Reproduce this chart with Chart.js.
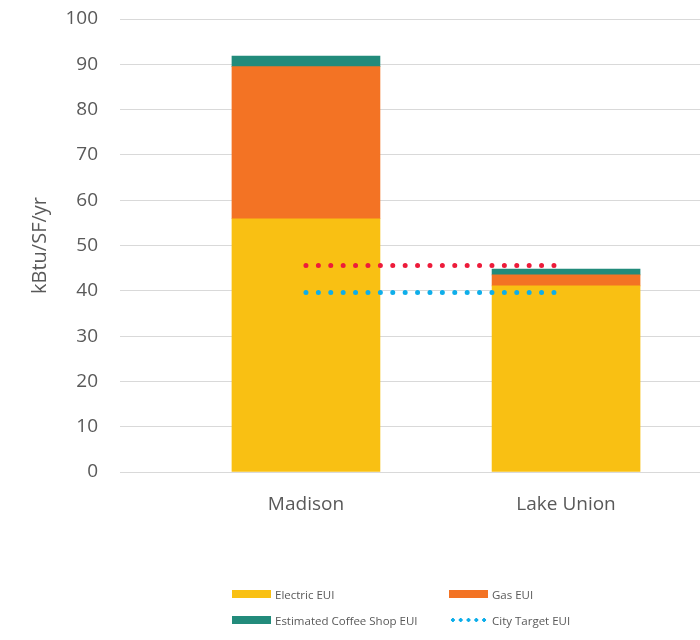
<!DOCTYPE html>
<html>
<head>
<meta charset="utf-8">
<script src="https://cdn.jsdelivr.net/npm/chart.js@4.4.1/dist/chart.umd.min.js"></script>
<style>
  body { margin: 0; background: #fff; }
  #wrap { position: relative; width: 700px; height: 640px; }
  #legend { position: absolute; left: 232px; top: 586px; font-family: 'Open Sans', sans-serif; font-size: 11.5px; color: #595959;
            display: grid; grid-template-columns: 217px 200px; row-gap: 10px; }
  .item { display: flex; align-items: center; height: 16px; }
  .sw { width: 39px; height: 8px; margin-right: 4px; }
</style>
</head>
<body>
<div id="wrap">
  <canvas id="chart" width="700" height="640"></canvas>
  <div id="legend"></div>
</div>
<script>
const sites = ['Madison', 'Lake Union'];
const electric = [55.9, 41.1];
const gas = [33.6, 2.4];
const coffee = [2.3, 1.3];
const cityTarget = [39.6, 39.6];
const otherTarget = [45.6, 45.6];
const targetPos = [0, 0.96];
const yTicks = [0, 10, 20, 30, 40, 50, 60, 70, 80, 90, 100];

const colors = {
  electric: '#F9C013',
  gas: '#F37324',
  coffee: '#228B7B',
  target: '#0EAEEA',
  red: '#ED1B3A'
};

const font = "'Open Sans', sans-serif";

function barData(vals) {
  return vals.map((v, i) => ({ x: i, y: v }));
}
function lineData(vals) {
  return vals.map((v, i) => ({ x: targetPos[i], y: v }));
}

const chart = new Chart(document.getElementById('chart'), {
  type: 'bar',
  data: {
    datasets: [
      { type: 'line', label: 'City Target EUI', data: lineData(cityTarget), borderColor: colors.target,
        borderWidth: 5, borderDash: [0, 12.4], borderCapStyle: 'round', pointRadius: 0, fill: false, stack: 'l1', order: 0 },
      { type: 'line', label: '', data: lineData(otherTarget), borderColor: colors.red,
        borderWidth: 5, borderDash: [0, 12.4], borderCapStyle: 'round', pointRadius: 0, fill: false, stack: 'l2', order: 0 },
      { label: 'Electric EUI', data: barData(electric), backgroundColor: colors.electric, stack: 'a', order: 1 },
      { label: 'Gas EUI', data: barData(gas), backgroundColor: colors.gas, stack: 'a', order: 1 },
      { label: 'Estimated Coffee Shop EUI', data: barData(coffee), backgroundColor: colors.coffee, stack: 'a', order: 1 }
    ]
  },
  options: {
    responsive: false,
    animation: false,
    layout: { padding: { top: 19, right: 0, left: 0, bottom: 0 } },
    datasets: { bar: { barThickness: 148 } },
    plugins: { legend: { display: false }, tooltip: { enabled: false } },
    scales: {
      x: {
        type: 'linear',
        offset: false,
        min: -0.715,
        max: 1.515,
        stacked: true,
        afterBuildTicks: s => { s.ticks = sites.map((_, i) => ({ value: i })); },
        afterFit: s => { s.height = 168; },
        grid: { display: false },
        border: { color: '#d9d9d9', width: 1 },
        ticks: {
          callback: v => sites[v],
          color: '#595959',
          font: { family: font, size: 19 },
          padding: 13
        }
      },
      y: {
        stacked: true,
        min: 0,
        max: 100,
        afterBuildTicks: s => { s.ticks = yTicks.map(v => ({ value: v })); },
        afterFit: s => { s.width = 120; s.paddingTop = 0; s.paddingBottom = 0; },
        grid: { color: '#d9d9d9', lineWidth: 1, drawTicks: false },
        border: { display: false },
        ticks: { color: '#595959', font: { family: font, size: 19 }, padding: 22 },
        title: {
          display: true,
          text: 'kBtu/SF/yr',
          color: '#595959',
          font: { family: font, size: 20 },
          padding: { top: 28, bottom: 0 }
        }
      }
    }
  }
});

// legend in two columns, built from the datasets
const legend = document.getElementById('legend');
const order = ['Electric EUI', 'Gas EUI', 'Estimated Coffee Shop EUI', 'City Target EUI'];
order.forEach(name => {
  const ds = chart.data.datasets.find(d => d.label === name);
  const item = document.createElement('div');
  item.className = 'item';
  const sw = document.createElement('span');
  sw.className = 'sw';
  if (ds.type === 'line') {
    sw.style.height = '4px';
    sw.style.background = `radial-gradient(circle, ${ds.borderColor} 1.6px, transparent 2px) 0 0 / 7.8px 4px repeat-x`;
  } else {
    sw.style.background = ds.backgroundColor;
  }
  item.appendChild(sw);
  item.appendChild(document.createTextNode(name));
  legend.appendChild(item);
});
</script>
</body>
</html>
